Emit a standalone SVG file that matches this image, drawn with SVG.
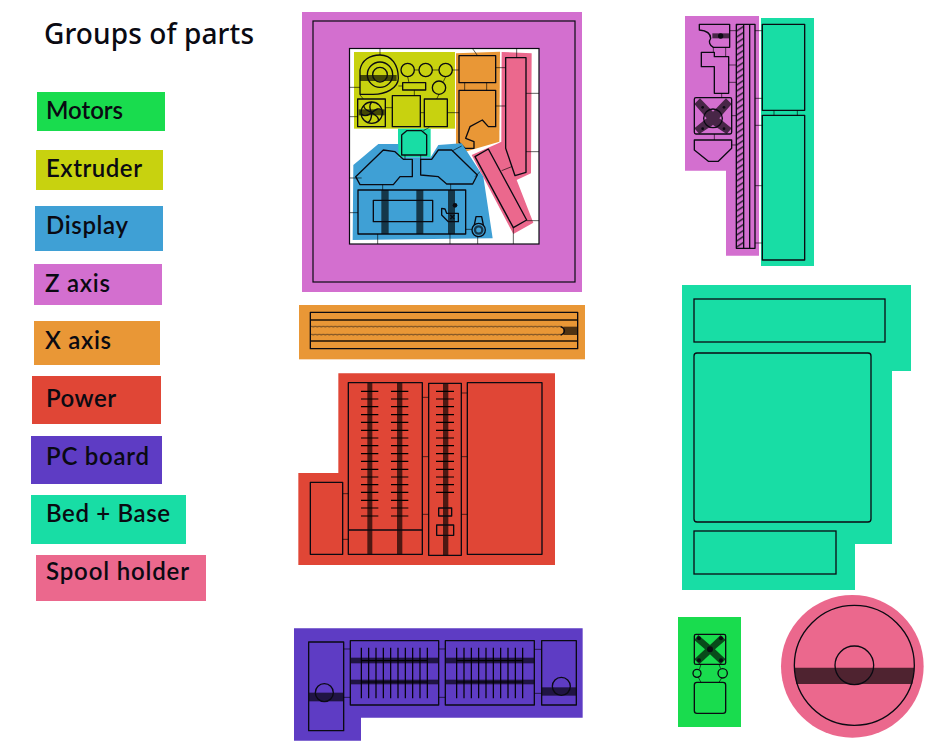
<svg xmlns="http://www.w3.org/2000/svg" width="944" height="749" viewBox="0 0 944 749">
<style>
.l{font:600 24px Lato,"Open Sans",sans-serif;fill:#0a0a12}
.o{fill:none;stroke:#0a0a12;stroke-width:4;stroke-linejoin:round}
.c{fill:none;stroke:#000;stroke-opacity:.62;stroke-width:3}
.b{fill:#000;fill-opacity:.66}
.n{fill:none;stroke:#000;stroke-width:3.6}
.green{fill:#19DC4E}.yellow{fill:#C8D20F}.blue{fill:#3FA0D5}.purple{fill:#D36FCF}.orange{fill:#E99736}.red{fill:#E04636}.indigo{fill:#5E3CC4}.teal{fill:#18DDA5}.pink{fill:#EB688D}
</style>
<defs>
<pattern id="wave" patternUnits="userSpaceOnUse" width="12" height="8" x="46" y="76"><path d="M0 4Q3 1 6 4T12 4" fill="none" stroke="#0a0a12" stroke-width="2"/></pattern>
<pattern id="hatch" patternUnits="userSpaceOnUse" width="22" height="18" x="169" y="43"><path d="M0 21L22 6M0 3L22 -12" fill="none" stroke="#0a0a12" stroke-width="3.6"/></pattern>
</defs>
<rect width="944" height="749" fill="#fff"/>
<g id="legend">
<text x="44" y="44" font-family="'Noto Sans','Open Sans',sans-serif" font-size="28" font-weight="500" fill="#0a0a12" textLength="210">Groups of parts</text>
<rect class="green" x="37" y="92" width="128" height="39"/><text class="l" x="46" y="119" textLength="77">Motors</text>
<rect class="yellow" x="36" y="150" width="127" height="40"/><text class="l" x="46" y="177" textLength="96">Extruder</text>
<rect class="blue" x="35" y="206" width="128" height="45"/><text class="l" x="46" y="234" textLength="82">Display</text>
<rect class="purple" x="34" y="264" width="128" height="41"/><text class="l" x="45" y="292" textLength="65">Z axis</text>
<rect class="orange" x="34" y="321" width="126" height="44"/><text class="l" x="45" y="349" textLength="66">X axis</text>
<rect class="red" x="32" y="376" width="129" height="48"/><text class="l" x="46" y="407" textLength="70">Power</text>
<rect class="indigo" x="31" y="436" width="131" height="48"/><text class="l" x="46" y="465" textLength="103">PC board</text>
<rect class="teal" x="31" y="495" width="155" height="49"/><text class="l" x="46" y="522" textLength="124">Bed + Base</text>
<rect class="pink" x="36" y="555" width="170" height="46"/><text class="l" x="46" y="580" textLength="143">Spool holder</text>
</g>
<g id="frame">
<rect class="purple" x="302" y="12" width="280" height="280"/>
<rect x="349.5" y="48.5" width="189.5" height="195.5" fill="#fff" stroke="#0a0a12" stroke-width="1.2"/>
<rect x="313" y="21" width="262" height="261" fill="none" stroke="#0a0a12" stroke-width="1.2"/>
</g>
<g id="extruder" transform="translate(340 40) scale(.33333)">
<rect class="yellow" x="42" y="36" width="303" height="230"/>
<rect class="b" x="60" y="105" width="110" height="18"/>
<path class="o" d="M60 163V90C65 60 90 45 120 45C155 45 175 75 175 115C175 145 135 163 100 163Z"/>
<circle class="o" cx="120" cy="104" r="38"/><circle class="o" cx="120" cy="104" r="22"/>
<circle class="o" cx="203" cy="90" r="20"/><circle class="o" cx="257" cy="90" r="20"/><circle class="o" cx="317" cy="90" r="20"/><circle class="o" cx="297" cy="143" r="20"/>
<rect class="o" x="188" y="128" width="69" height="22"/>
<rect class="o" x="53" y="177" width="83" height="83"/>
<rect class="b" x="56" y="208" width="78" height="18"/>
<circle class="o" cx="95" cy="218" r="32"/>
<path class="o" d="M95 218C85 200 90 192 95 186M95 218C110 205 115 205 125 208M95 218C112 228 118 235 115 243M95 218C95 235 90 245 82 248M95 218C80 230 70 228 64 222M95 218C75 210 70 202 72 196"/>
<rect class="o" x="157" y="167" width="84" height="93"/>
<rect class="o" x="253" y="177" width="69" height="83"/>
</g>
<g id="x-carriage" transform="translate(340 40) scale(.33333)">
<path class="orange" d="M348 40L480 35L478 305L360 340L348 320Z"/>
<rect class="o" x="357" y="47" width="110" height="81"/>
<path class="o" d="M357 151H467V260H445L427 240L390 260L377 295L402 305V325H375L357 307Z"/>
</g>
<g id="spool-rail" transform="translate(340 40) scale(.33333)">
<path class="pink" d="M485 36L575 40L573 400L530 420L580 548L520 582L395 345L475 310L484 305Z"/>
<path class="o" d="M497 53H558V397L525 407L497 325Z"/>
<path class="o" d="M405 350L445 327L560 540L520 563Z"/>
</g>
<g id="bed-mount" transform="translate(340 40) scale(.33333)">
<rect class="teal" x="174" y="266" width="98" height="86"/>
<path class="o" d="M185 285L200 272H245L260 285V345H185Z"/>
</g>
<g id="display" transform="translate(340 40) scale(.33333)">
<path class="blue" d="M40 375L115 312H175V352H272L295 315L365 310L430 410L458 595L38 600Z"/>
<path class="o" d="M47 410L130 330L165 335L190 358H217V410H180L160 434H60Z"/>
<path class="o" d="M242 358H275L295 330H335L412 405L398 432H320L295 410L242 405Z"/>
<rect class="b" x="124" y="450" width="22" height="132"/><rect class="b" x="229" y="450" width="21" height="132"/><rect class="b" x="324" y="450" width="21" height="132"/>
<rect class="o" x="54" y="450" width="323" height="132"/>
<rect class="o" x="100" y="481" width="178" height="64"/>
<circle cx="345" cy="496" r="7" fill="#0a0a12"/>
<path class="o" d="M305 505V525L325 545H355V520H320L315 507Z"/>
<path class="o" d="M331 525L343 537M343 525L331 537"/>
<circle class="o" cx="416" cy="570" r="20"/><circle cx="416" cy="570" r="11" fill="none" stroke="#0a0a12" stroke-opacity=".7" stroke-width="7"/>
<path class="o" d="M403 555L408 530H425L430 555"/>
</g>
<g id="z-axis" transform="translate(680 10) scale(.33333)">
<path class="purple" d="M15 18H237V737H138V482H15Z"/>
<rect x="169" y="43" width="22" height="672" fill="url(#hatch)"/>
<rect class="o" x="169" y="43" width="56" height="672"/>
<path class="o" d="M191 43V715M209 43V715"/>
<rect class="b" x="97" y="70" width="52" height="15"/>
<circle cx="122" cy="78" r="8" fill="#0a0a12"/>
<path class="o" d="M58 43H149V112H100C88 105 85 95 92 85C92 72 80 62 58 60Z"/>
<path class="o" d="M64 127H103V140H146V250H103V170H64Z"/>
<path class="b" d="M60 265L99 305L138 265L155 282L118 325L155 355L140 372L99 345L58 372L43 355L80 325L43 282Z"/>
<rect class="o" x="43" y="263" width="112" height="109" rx="5"/>
<circle class="o" cx="99" cy="325" r="28"/>
<circle cx="68" cy="292" r="4" fill="#0a0a12"/><circle cx="132" cy="292" r="4" fill="#0a0a12"/><circle cx="68" cy="356" r="4" fill="#0a0a12"/><circle cx="132" cy="356" r="4" fill="#0a0a12"/>
<path class="o" d="M43 390H155V415L115 454H85L43 420Z"/>
</g>
<g id="bed-upper" transform="translate(680 10) scale(.33333)">
<rect class="teal" x="243" y="24" width="159" height="744"/>
<rect class="o" x="247" y="43" width="127" height="258"/>
<rect class="o" x="247" y="316" width="127" height="434"/>
</g>
<g id="x-axis" transform="translate(295 300) scale(.33333)">
<rect class="orange" x="12" y="15" width="858" height="163"/>
<rect class="b" x="46" y="57" width="802" height="6"/><rect class="b" x="46" y="120" width="802" height="6"/>
<rect x="46" y="76" width="754" height="8" fill="url(#wave)"/><rect x="46" y="100" width="754" height="8" fill="url(#wave)"/>
<rect class="b" x="805" y="80" width="43" height="25"/>
<path class="o" d="M797 80C812 85 812 100 797 105" stroke-width="6"/>
<rect class="o" x="46" y="37" width="802" height="109"/>
</g>
<g id="power" transform="translate(295 370) scale(.33333)">
<path class="red" d="M130 10H780V585H10V309H130Z"/>
<rect class="o" x="46" y="337" width="97" height="216"/>
<rect class="b" x="217" y="38" width="15" height="515"/><rect class="b" x="306" y="38" width="16" height="515"/><rect class="b" x="444" y="40" width="16" height="516"/>
<path class="n" d="M198 64H250M198 87H250M198 110H250M198 134H250M198 157H250M198 181H250M198 204H250M198 227H250M198 251H250M198 274H250M198 298H250M198 321H250M198 344H250M198 367H250M198 391H250M198 414H250M198 438H250"/>
<path class="n" d="M288 64H340M288 87H340M288 110H340M288 134H340M288 157H340M288 181H340M288 204H340M288 227H340M288 251H340M288 274H340M288 298H340M288 321H340M288 344H340M288 367H340M288 391H340M288 414H340M288 438H340"/>
<path class="n" d="M423 64H477M423 87H477M423 110H477M423 134H477M423 157H477M423 181H477M423 204H477M423 227H477M423 251H477M423 274H477M423 298H477M423 321H477M423 344H477M423 367H477"/>
<rect class="o" x="160" y="38" width="222" height="515"/>
<path class="o" d="M160 480H382"/>
<rect class="o" x="401" y="40" width="98" height="516"/>
<rect class="o" x="431" y="414" width="39" height="24"/><rect class="o" x="425" y="465" width="51" height="31"/>
<rect class="o" x="517" y="38" width="224" height="515"/>
</g>
<g id="pc-board" transform="translate(290 625) scale(.33333)">
<path class="indigo" d="M12 10H878V278H213V347H12Z"/>
<rect class="b" x="56" y="203" width="105" height="26"/>
<rect class="o" x="56" y="51" width="105" height="266"/>
<circle class="o" cx="103" cy="203" r="27"/>
<rect class="b" x="181" y="98" width="265" height="17"/><rect class="b" x="181" y="164" width="265" height="14"/>
<path class="n" d="M214 107H412M214 171H412M214 68V220M236 68V220M258 68V220M280 68V220M302 68V220M324 68V220M346 68V220M368 68V220M390 68V220M412 68V220"/>
<rect class="o" x="181" y="47" width="265" height="193"/>
<rect class="b" x="466" y="98" width="267" height="17"/><rect class="b" x="466" y="164" width="267" height="14"/>
<path class="n" d="M500 107H698M500 171H698M500 68V220M522 68V220M544 68V220M566 68V220M588 68V220M610 68V220M632 68V220M654 68V220M676 68V220M698 68V220"/>
<rect class="o" x="466" y="47" width="267" height="193"/>
<rect class="b" x="755" y="187" width="104" height="25"/>
<rect class="o" x="755" y="47" width="104" height="193"/>
<circle class="o" cx="814" cy="184" r="27"/>
</g>
<g id="base">
<path class="teal" d="M682 285H911V371H892V544H855V590H682Z"/>
<g fill="none" stroke="#0a0a12" stroke-width="1.3">
<rect x="694" y="299" width="191" height="43"/>
<rect x="694" y="353" width="177" height="169" rx="3"/>
<rect x="694" y="531" width="142" height="43"/>
</g>
</g>
<g id="motor" transform="translate(670 590) scale(.33333)">
<rect class="green" x="24" y="81" width="189" height="330"/>
<path class="b" d="M85 135L120 165L152 135L167 150L135 178L167 208L152 223L120 193L88 223L73 208L105 178L73 150Z"/>
<rect class="o" x="73" y="133" width="94" height="90" rx="5"/>
<circle cx="120" cy="178" r="9" fill="#0a0a12"/>
<circle cx="87" cy="145" r="6" fill="#0a0a12"/><circle cx="153" cy="145" r="6" fill="#0a0a12"/><circle cx="87" cy="211" r="6" fill="#0a0a12"/><circle cx="153" cy="211" r="6" fill="#0a0a12"/>
<circle class="o" cx="81" cy="250" r="12"/><circle class="o" cx="158" cy="250" r="14"/>
<rect class="o" x="73" y="277" width="94" height="93" rx="8"/>
</g>
<g id="spool" transform="translate(670 590) scale(.33333)">
<circle class="pink" cx="547" cy="229" r="214"/>
<path fill="#4f2330" d="M373 233H733L727 282H379Z"/>
<circle class="o" cx="553" cy="226" r="180"/>
<circle class="o" cx="553" cy="226" r="58"/>
</g>
<g id="connectors">
<g transform="translate(340 40) scale(.33333)">
<path class="c" d="M120 25V45M28 142H60M28 230H53M397 25L412 46M467 83H497M467 198H497M530 25V53M558 160H597M558 335H597M560 542H597M520 563V612M28 414H65M28 518H54M113 582V612M330 582V612M413 590V612M338 332L365 318M405 410L420 395M128 434V450M332 432V450M374 128V151M440 128V151M485 392L515 380M250 272L268 262M195 345V358M242 345V358M223 90H237M277 90H297M337 90H357M322 218H357M136 203H157M241 218H253M223 150V167M60 165L70 177M175 138H188M207 128L203 110M297 163L290 177M317 110L310 125M377 568H396"/>
</g>
<g transform="translate(680 10) scale(.33333)">
<path class="c" d="M282 301V316M352 301V316M225 62H247M225 265H247M225 346H247M225 527H247M225 699H247M149 62H169M100 112V127M137 112V140M146 165H169M146 217H169M125 250V263M155 317H169M103 372V390M155 405H169"/>
</g>
<g transform="translate(295 370) scale(.33333)">
<path class="c" d="M143 371H160M143 508H160M382 82H401M382 260H401M382 433H401M499 69H517M499 260H517M499 433H517"/>
</g>
<g transform="translate(290 625) scale(.33333)">
<path class="c" d="M161 72H181M161 217H181M446 72H466M446 217H466M733 73H755M733 205H755"/>
</g>
<g transform="translate(670 590) scale(.33333)">
<path class="c" d="M93 223L88 238M147 223L152 236M85 262L93 277M155 264L147 277"/>
</g>
</g>
</svg>
